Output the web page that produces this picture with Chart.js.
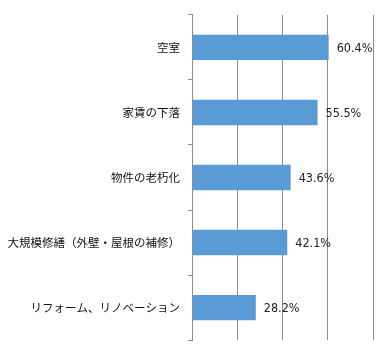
<!DOCTYPE html>
<html><head><meta charset="utf-8">
<script src="https://cdn.jsdelivr.net/npm/chart.js@4"></script>
<style>html,body{margin:0;padding:0;background:#fff}#w{width:384px;height:355px}</style>
</head><body><div id="w"><canvas id="c"></canvas></div>
<script>
const categories = ["空室", "家賃の下落", "物件の老朽化", "大規模修繕（外壁・屋根の補修）", "リフォーム、リノベーション"];
const values = [60.4, 55.5, 43.6, 42.1, 28.2];
const FONT = "'Noto Sans CJK JP', 'Noto Sans', sans-serif";
const NUM_FONT = "'DejaVu Sans Condensed', 'DejaVu Sans', sans-serif";

const labelPlugin = {
  id: 'valLabels',
  afterDatasetsDraw(chart) {
    const ctx = chart.ctx;
    const meta = chart.getDatasetMeta(0);
    ctx.save();
    ctx.font = '12.5px ' + NUM_FONT;
    ctx.fillStyle = '#222';
    ctx.textAlign = 'left';
    ctx.textBaseline = 'middle';
    meta.data.forEach((bar, i) => {
      ctx.fillText(values[i].toFixed(1) + '%', bar.x + 8, bar.y + 1.5);
    });
    ctx.restore();
  }
};

new Chart(document.getElementById('c'), {
  type: 'bar',
  data: {
    labels: categories,
    datasets: [{
      data: values,
      backgroundColor: '#5B9BD5',
      borderWidth: 0,
      categoryPercentage: 1,
      barPercentage: 0.39
    }]
  },
  options: {
    indexAxis: 'y',
    responsive: true,
    maintainAspectRatio: false,
    animation: false,
    layout: { padding: { left: 0, right: 11, top: 10, bottom: 9 } },
    plugins: { legend: { display: false }, tooltip: { enabled: false } },
    scales: {
      x: {
        min: 0, max: 80,
        ticks: { display: false, stepSize: 20 },
        grid: { color: '#8c8c8c', lineWidth: 1, drawTicks: false },
        border: { display: false }
      },
      y: {
        afterFit(scale) { scale.width = 192; },
        ticks: { color: '#111', font: { family: FONT, size: 11.5 }, padding: 8 },
        grid: { drawOnChartArea: false, drawTicks: true, tickLength: 4, color: '#8c8c8c' },
        border: { display: true, color: '#8c8c8c' }
      }
    }
  },
  plugins: [labelPlugin]
});
</script></body></html>
